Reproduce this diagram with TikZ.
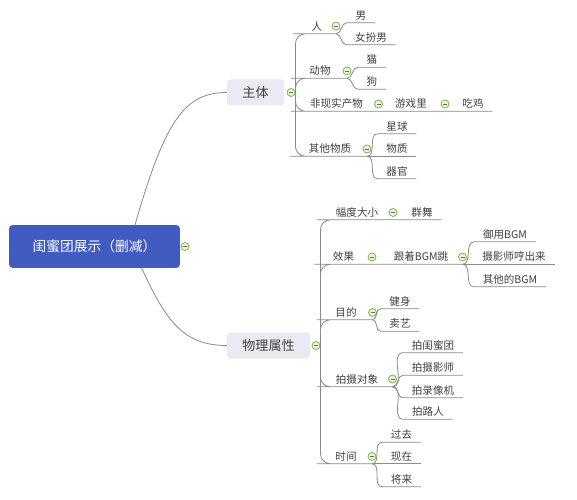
\documentclass[tikz,border=0pt]{standalone}
\usepackage{fontspec}
\setmainfont{Noto Sans CJK SC}
\definecolor{rootblue}{RGB}{64,92,192}
\definecolor{topicgray}{RGB}{233,234,242}
\definecolor{linkgray}{RGB}{138,138,138}
\definecolor{foldgreen}{RGB}{122,182,72}
\definecolor{inkgray}{RGB}{64,64,64}
\tikzset{
    rootbox/.style={fill=rootblue, rounded corners=2.5pt, text=white, minimum width=128pt, minimum height=32pt, font=\fontsize{10.3pt}{12pt}\selectfont},
    mainbox/.style={fill=topicgray, rounded corners=2.5pt, text=inkgray, minimum height=19.5pt, inner xsep=11.5pt, font=\fontsize{9.8pt}{12pt}\selectfont},
    leaf/.style={text=inkgray, inner xsep=6.5pt, inner ysep=1pt, text height=7pt, text depth=1.5pt, font=\fontsize{7.9pt}{9pt}\selectfont},
    fold/.style={circle, draw=foldgreen, fill=foldgreen!15, line width=0.6pt, minimum size=6pt, inner sep=0pt,
        path picture={\draw[foldgreen!70!black, line width=0.6pt] ([xshift=-1.5pt]path picture bounding box.center) -- ([xshift=1.5pt]path picture bounding box.center);}},
    link/.style={draw=linkgray, line width=0.6pt, rounded corners=7.5pt},
    twig/.style={draw=linkgray, line width=0.6pt},
}
\begin{document}
\begin{tikzpicture}[x=0.75pt, y=-0.75pt]
                \path[use as bounding box, fill=white] (0,0) rectangle (577,499);
                % Topics, fold marks and branches:
                \node[rootbox] (root) at (94.5,246.5) {闺蜜团展示（删减）};
                \node[fold] (rootf) at (185,246.5) {};
                \node[mainbox] (body) at (255.5,92.5) {主体};
                \node[fold] (bodyf) at (291,92.5) {};
                \node[mainbox] (phys) at (268.5,345.5) {物理属性};
                \node[fold] (physf) at (316,345.5) {};
                \draw[link] ([xshift=30.4pt]root.north) .. controls +(30,-105) and +(-42,0) .. (body.west);
                \draw[link] ([xshift=35.4pt]root.south) .. controls +(25,55) and +(-42,0) .. (phys.west);

                \node[leaf] (ren) at (317,26.5) {人};
                \node[fold] (renf) at (336,26) {};
                \node[leaf] (nan) at (361,15.5) {男};
                \node[leaf] (nvbn) at (371,37.5) {女扮男};
                \node[leaf] (dw) at (320,71) {动物};
                \node[fold] (dwf) at (347,71) {};
                \node[leaf] (mao) at (372,60) {猫};
                \node[leaf] (gou) at (372,82) {狗};
                \node[leaf] (fxs) at (336.5,104) {非现实产物};
                \node[fold] (fxsf) at (378.5,104) {};
                \node[leaf] (yxl) at (411,104) {游戏里};
                \node[fold] (yxlf) at (445,104) {};
                \node[leaf] (cj) at (473,104) {吃鸡};
                \node[leaf] (qtwz) at (330,149) {其他物质};
                \node[fold] (qtwzf) at (367,149) {};
                \node[leaf] (xq) at (397,126.5) {星球};
                \node[leaf] (wz) at (397,149) {物质};
                \node[leaf] (qg) at (397,171.5) {器官};

                \draw[link] (bodyf.east) |- (ren.south west) -- (renf |- ren.south);
                \draw[link] (bodyf.east) |- (dw.south west) -- (dwf |- dw.south);
                \draw[link] (bodyf.east) |- (fxs.south west) -- (cj.south east);
                \draw[link] (bodyf.east) |- (qtwz.south west) -- (qtwzf |- qtwz.south);
                \draw[twig] (renf |- ren.south) to[out=0, in=180] (nan.south west) -- (nan.south east);
                \draw[twig] (renf |- ren.south) to[out=0, in=180] (nvbn.south west) -- (nvbn.south east);
                \draw[twig] (dwf |- dw.south) to[out=0, in=180] (mao.south west) -- (mao.south east);
                \draw[twig] (dwf |- dw.south) to[out=0, in=180] (gou.south west) -- (gou.south east);
                \draw[twig] (qtwzf |- qtwz.south) to[out=0, in=180] (xq.south west) -- (xq.south east);
                \draw[twig] (qtwzf |- qtwz.south) -- (wz.south east);
                \draw[twig] (qtwzf |- qtwz.south) to[out=0, in=180] (qg.south west) -- (qg.south east);

                \node[leaf] (fd) at (357,212.5) {幅度大小};
                \node[fold] (fdf) at (393,212.5) {};
                \node[leaf] (qw) at (422,212.5) {群舞};
                \node[leaf] (xg) at (343.5,257) {效果};
                \node[fold] (xgf) at (372,257) {};
                \node[leaf] (gz) at (421,257) {跟着BGM跳};
                \node[fold] (gzf) at (462.5,257) {};
                \node[leaf] (yy) at (505,234.5) {御用BGM};
                \node[leaf] (sys) at (514,257) {摄影师哼出来};
                \node[leaf] (qtd) at (510,279.5) {其他的BGM};
                \node[leaf] (md) at (346,312.5) {目的};
                \node[fold] (mdf) at (372.5,312.5) {};
                \node[leaf] (js) at (400,301.5) {健身};
                \node[leaf] (my) at (400,324) {卖艺};
                \node[leaf] (psdx) at (357,379.5) {拍摄对象};
                \node[fold] (psdxf) at (392.5,379) {};
                \node[leaf] (pgmt) at (433,345.5) {拍闺蜜团};
                \node[leaf] (psys) at (433,368) {拍摄影师};
                \node[leaf] (plxj) at (433,390.5) {拍录像机};
                \node[leaf] (plr) at (428,412) {拍路人};
                \node[leaf] (sj) at (346,456.5) {时间};
                \node[fold] (sjf) at (372,456.5) {};
                \node[leaf] (gq) at (401.5,435) {过去};
                \node[leaf] (xz) at (401.5,456.5) {现在};
                \node[leaf] (jl) at (401.5,479.5) {将来};

                \draw[link] (physf.east) |- (fd.south west) -- (qw.south east);
                \draw[link] (physf.east) |- (xg.south west) -- (gzf |- gz.south);
                \draw[link] (physf.east) |- (md.south west) -- (mdf |- md.south);
                \draw[link] (physf.east) |- (psdx.south west) -- (psdxf |- psdx.south);
                \draw[link] (physf.east) |- (sj.south west) -- (sjf |- sj.south);
                \draw[twig] (gzf |- gz.south) to[out=0, in=180] (yy.south west) -- (yy.south east);
                \draw[twig] (gzf |- gz.south) -- (sys.south east);
                \draw[twig] (gzf |- gz.south) to[out=0, in=180] (qtd.south west) -- (qtd.south east);
                \draw[twig] (mdf |- md.south) to[out=0, in=180] (js.south west) -- (js.south east);
                \draw[twig] (mdf |- md.south) to[out=0, in=180] (my.south west) -- (my.south east);
                \draw[twig] (psdxf |- psdx.south) to[out=0, in=180] (pgmt.south west) -- (pgmt.south east);
                \draw[twig] (psdxf |- psdx.south) to[out=0, in=180] (psys.south west) -- (psys.south east);
                \draw[twig] (psdxf |- psdx.south) to[out=0, in=180] (plxj.south west) -- (plxj.south east);
                \draw[twig] (psdxf |- psdx.south) to[out=0, in=180] (plr.south west) -- (plr.south east);
                \draw[twig] (sjf |- sj.south) to[out=0, in=180] (gq.south west) -- (gq.south east);
                \draw[twig] (sjf |- sj.south) -- (xz.south east);
                \draw[twig] (sjf |- sj.south) to[out=0, in=180] (jl.south west) -- (jl.south east);
            \end{tikzpicture}
\end{document}
